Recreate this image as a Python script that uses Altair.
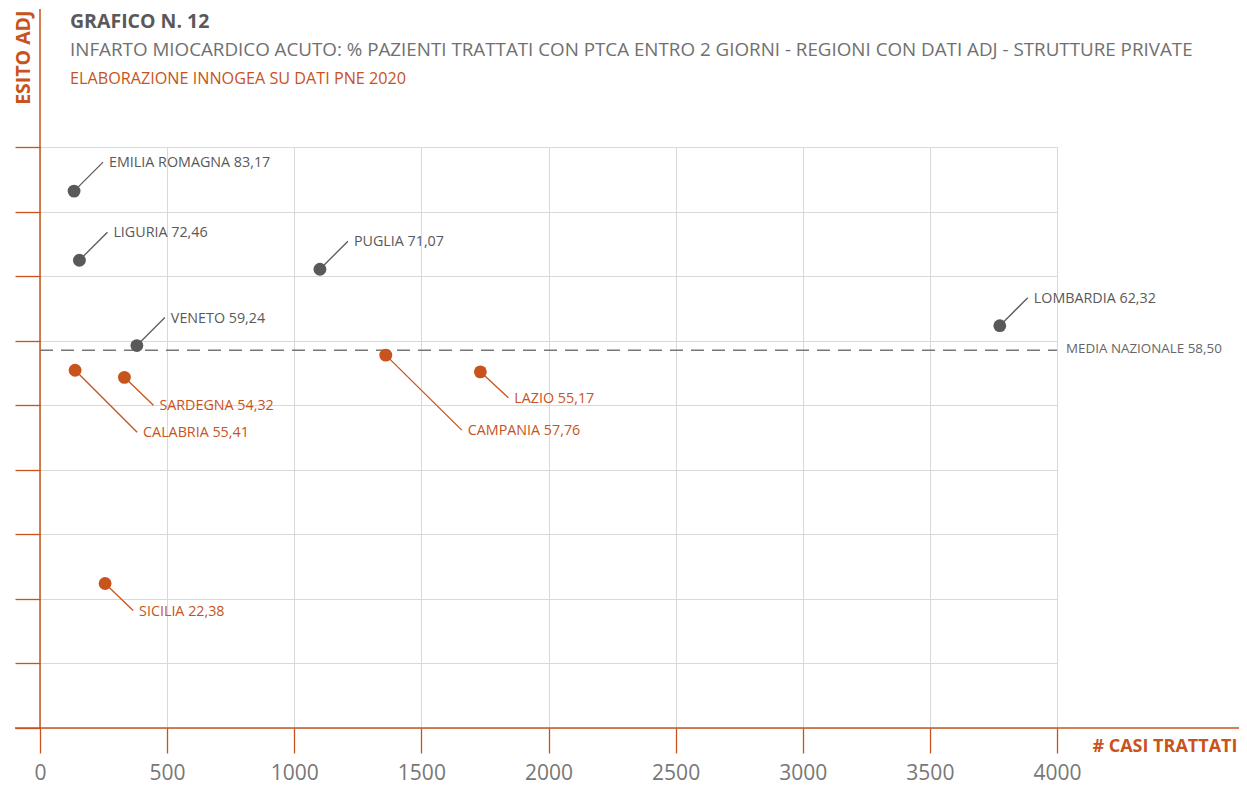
import altair as alt
import pandas as pd

# ---- data ----
regioni = ["EMILIA ROMAGNA", "LIGURIA", "PUGLIA", "LOMBARDIA", "VENETO",
           "CAMPANIA", "CALABRIA", "LAZIO", "SARDEGNA", "SICILIA"]
casi = [134, 155, 1101, 3775, 381, 1360, 138, 1732, 332, 256]
esito = [83.17, 72.46, 71.07, 62.32, 59.24, 57.76, 55.41, 55.17, 54.32, 22.38]
sopra_media = [True, True, True, True, True, False, False, False, False, False]
media_nazionale = 58.50

# ---- layout (pixels) ----
W, H = 1017, 581
X_MAX, Y_MAX = 4000, 90
ORANGE = "#C8531C"
GRAY = "#595959"
FONT = "Open Sans"

# leader line end offsets in pixels (dx, dy) per label
leader_px = [(29, -29), (28, -28), (28, -28), (28, -28), (28, -28),
             (76, 75), (62, 62), (28, 26), (29, 28), (28, 27)]

kx = X_MAX / W
ky = Y_MAX / H
df = pd.DataFrame({
    "regione": regioni,
    "casi": casi,
    "esito": esito,
    "sopra": sopra_media,
})
df["label"] = [f"{r} {v:.2f}".replace(".", ",") for r, v in zip(regioni, esito)]
df["x2"] = [c + dx * kx for c, (dx, dy) in zip(casi, leader_px)]
df["y2"] = [e - dy * ky for e, (dx, dy) in zip(esito, leader_px)]
df["col"] = [GRAY if s else ORANGE for s in sopra_media]

x_scale = alt.Scale(domain=[0, X_MAX], nice=False, zero=True)
y_scale = alt.Scale(domain=[0, Y_MAX], nice=False)

base = alt.Chart(df)

axes = base.mark_point(opacity=0).encode(
    x=alt.X("casi:Q", scale=x_scale,
            axis=alt.Axis(values=list(range(0, 4001, 500)), grid=True,
                          gridColor="#d9d9d9", gridWidth=1, domain=False,
                          tickColor=ORANGE, tickSize=25, tickWidth=1.3,
                          labelColor="#777777", labelFont=FONT, labelFontSize=21,
                          labelBaseline="alphabetic", labelPadding=26, format="d",
                          labelFlush=False,
                          title="# CASI TRATTATI", titleColor=ORANGE,
                          titleFont=FONT, titleFontSize=18, titleFontWeight="bold",
                          titleX=W + 180, titleY=18, titleAlign="right",
                          titleBaseline="middle", titleAnchor="end")),
    y=alt.Y("esito:Q", scale=y_scale,
            axis=alt.Axis(values=list(range(0, 91, 10)), grid=True,
                          gridColor="#d9d9d9", gridWidth=1, domain=False,
                          tickColor=ORANGE, tickSize=25, tickWidth=1.3,
                          labels=False,
                          title="ESITO ADJ", titleColor=ORANGE,
                          titleFont=FONT, titleFontSize=19.5, titleFontWeight="bold",
                          titleAngle=270, titleX=-17, titleY=-137,
                          titleAlign="right", titleBaseline="middle")),
)

x_axis_line = alt.Chart(pd.DataFrame({"a": [0]})).mark_rule(color=ORANGE, strokeWidth=1.5).encode(
    x=alt.value(-25), x2=alt.value(W + 190), y=alt.value(H))
y_axis_line = alt.Chart(pd.DataFrame({"a": [0]})).mark_rule(color=ORANGE, strokeWidth=1.5).encode(
    x=alt.value(0), y=alt.value(-138), y2=alt.value(H))

media_df = pd.DataFrame({"y": [media_nazionale], "x0": [0], "x1": [X_MAX],
                         "t": [f"MEDIA NAZIONALE {media_nazionale:.2f}".replace(".", ",")]})
media_line = alt.Chart(media_df).mark_rule(color="#777777", strokeWidth=1.5, strokeDash=[13, 8]).encode(
    x=alt.X("x0:Q", scale=x_scale), x2="x1:Q", y=alt.Y("y:Q", scale=y_scale))
media_text = alt.Chart(media_df).mark_text(align="left", baseline="middle", dx=9, dy=-1,
                                           font=FONT, fontSize=13.4,
                                           color="#666666").encode(
    x=alt.X("x1:Q", scale=x_scale), y=alt.Y("y:Q", scale=y_scale), text="t:N")

leaders = base.mark_rule(strokeWidth=1.3).encode(
    x=alt.X("casi:Q", scale=x_scale), y=alt.Y("esito:Q", scale=y_scale),
    x2="x2:Q", y2="y2:Q", color=alt.Color("col:N", scale=None))

points = base.mark_circle(size=165, opacity=1).encode(
    x=alt.X("casi:Q", scale=x_scale), y=alt.Y("esito:Q", scale=y_scale),
    color=alt.Color("col:N", scale=None))

labels = base.mark_text(align="left", baseline="middle", dx=6, dy=1,
                        font=FONT, fontSize=14.3).encode(
    x=alt.X("x2:Q", scale=x_scale), y=alt.Y("y2:Q", scale=y_scale),
    text="label:N", color=alt.Color("col:N", scale=None))

hdr = pd.DataFrame({"a": [0]})
t1 = alt.Chart(hdr).mark_text(align="left", baseline="alphabetic", font=FONT,
                              fontSize=19.5, fontWeight="bold", color=GRAY,
                              text="GRAFICO N. 12").encode(x=alt.value(30), y=alt.value(-119))
t2 = alt.Chart(hdr).mark_text(align="left", baseline="alphabetic", font=FONT,
                              fontSize=18.8, color="#707070",
                              text="INFARTO MIOCARDICO ACUTO: % PAZIENTI TRATTATI CON PTCA ENTRO 2 GIORNI - REGIONI CON DATI ADJ - STRUTTURE PRIVATE"
                              ).encode(x=alt.value(30), y=alt.value(-91))
t3 = alt.Chart(hdr).mark_text(align="left", baseline="alphabetic", font=FONT,
                              fontSize=16.2, color=ORANGE,
                              text="ELABORAZIONE INNOGEA SU DATI PNE 2020"
                              ).encode(x=alt.value(30), y=alt.value(-63))

chart = alt.layer(axes, media_line, leaders, points, labels, media_text,
                  x_axis_line, y_axis_line, t1, t2, t3).properties(
    width=W, height=H,
    autosize=alt.AutoSizeParams(type="none"),
    padding={"left": 32, "top": 139, "right": 182, "bottom": 58},
).configure_view(stroke=None).configure(background="white")

chart.save("out.html", embed_options={"renderer": "svg", "actions": False})
